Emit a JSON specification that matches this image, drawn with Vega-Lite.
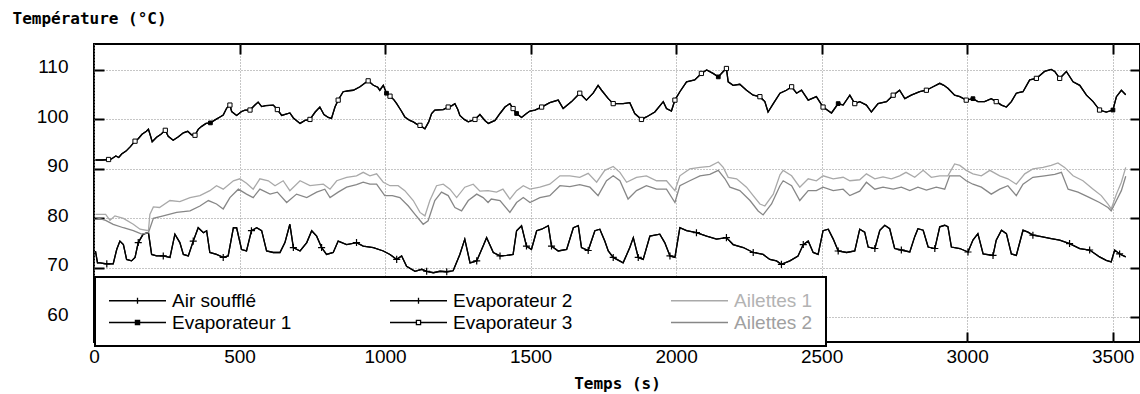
{
"$schema": "https://vega.github.io/schema/vega-lite/v6.json",
"width": 1046, "height": 298,
"autosize": {"type": "none"},
"padding": {"left": 94, "top": 44, "right": 0, "bottom": 52},
"background": "white",
"config": {
  "view": {"stroke": "black", "strokeWidth": 2},
  "axis": {"domain": false, "tickColor": "black", "tickWidth": 2, "tickSize": -10, "labelFont": "Liberation Sans", "labelFontSize": 19, "labelColor": "black", "gridColor": "#8c8c8c", "gridDash": [1, 2], "gridWidth": 1, "labelFlush": false}
},
"datasets": {
"temps": [
{"t":5,"Evaporateur 1":91.8,"Evaporateur 3":91.8},{"t":30,"Evaporateur 1":91.8,"Evaporateur 3":91.8},{"t":50,"Evaporateur 1":91.9,"Evaporateur 3":91.9},{"t":60,"Evaporateur 1":92.0,"Evaporateur 3":92.0},{"t":75,"Evaporateur 1":92.6,"Evaporateur 3":92.6},{"t":85,"Evaporateur 1":92.3,"Evaporateur 3":92.3},{"t":95,"Evaporateur 1":93.0,"Evaporateur 3":93.0},{"t":110,"Evaporateur 1":93.6,"Evaporateur 3":93.6},{"t":125,"Evaporateur 1":94.5,"Evaporateur 3":94.5},{"t":141,"Evaporateur 1":95.6,"Evaporateur 3":95.6},{"t":152,"Evaporateur 1":96.1,"Evaporateur 3":96.1},{"t":165,"Evaporateur 1":97.0,"Evaporateur 3":97.0},{"t":180,"Evaporateur 1":97.6,"Evaporateur 3":97.6},{"t":187,"Evaporateur 1":98.0,"Evaporateur 3":98.0},{"t":195,"Evaporateur 1":96.5,"Evaporateur 3":96.5},{"t":200,"Evaporateur 1":95.5,"Evaporateur 3":95.5},{"t":215,"Evaporateur 1":96.4,"Evaporateur 3":96.4},{"t":230,"Evaporateur 1":97.0,"Evaporateur 3":97.0},{"t":245,"Evaporateur 1":97.8,"Evaporateur 3":97.8},{"t":255,"Evaporateur 1":96.6,"Evaporateur 3":96.6},{"t":272,"Evaporateur 1":95.8,"Evaporateur 3":95.8},{"t":290,"Evaporateur 1":96.5,"Evaporateur 3":96.5},{"t":307,"Evaporateur 1":97.3,"Evaporateur 3":97.3},{"t":322,"Evaporateur 1":97.6,"Evaporateur 3":97.6},{"t":335,"Evaporateur 1":96.9,"Evaporateur 3":96.9},{"t":347,"Evaporateur 1":96.8,"Evaporateur 3":96.8},{"t":358,"Evaporateur 1":98.0,"Evaporateur 3":98.0},{"t":370,"Evaporateur 1":98.6,"Evaporateur 3":98.6},{"t":385,"Evaporateur 1":99.2,"Evaporateur 3":99.2},{"t":400,"Evaporateur 1":99.3,"Evaporateur 3":99.3},{"t":416,"Evaporateur 1":99.9,"Evaporateur 3":99.9},{"t":433,"Evaporateur 1":100.5,"Evaporateur 3":100.5},{"t":444,"Evaporateur 1":100.9,"Evaporateur 3":100.9},{"t":456,"Evaporateur 1":102.3,"Evaporateur 3":102.3},{"t":467,"Evaporateur 1":102.9,"Evaporateur 3":102.9},{"t":473,"Evaporateur 1":101.6,"Evaporateur 3":101.6},{"t":490,"Evaporateur 1":100.8,"Evaporateur 3":100.8},{"t":507,"Evaporateur 1":101.6,"Evaporateur 3":101.6},{"t":519,"Evaporateur 1":101.9,"Evaporateur 3":101.9},{"t":536,"Evaporateur 1":101.9,"Evaporateur 3":101.9},{"t":553,"Evaporateur 1":102.9,"Evaporateur 3":102.9},{"t":564,"Evaporateur 1":103.5,"Evaporateur 3":103.5},{"t":576,"Evaporateur 1":102.6,"Evaporateur 3":102.6},{"t":590,"Evaporateur 1":102.8,"Evaporateur 3":102.8},{"t":616,"Evaporateur 1":102.9,"Evaporateur 3":102.9},{"t":630,"Evaporateur 1":102.0,"Evaporateur 3":102.0},{"t":645,"Evaporateur 1":100.8,"Evaporateur 3":100.8},{"t":673,"Evaporateur 1":101.3,"Evaporateur 3":101.3},{"t":685,"Evaporateur 1":100.3,"Evaporateur 3":100.3},{"t":708,"Evaporateur 1":99.2,"Evaporateur 3":99.2},{"t":725,"Evaporateur 1":99.8,"Evaporateur 3":99.8},{"t":742,"Evaporateur 1":100.0,"Evaporateur 3":100.0},{"t":760,"Evaporateur 1":101.5,"Evaporateur 3":101.5},{"t":776,"Evaporateur 1":102.5,"Evaporateur 3":102.5},{"t":790,"Evaporateur 1":101.0,"Evaporateur 3":101.0},{"t":805,"Evaporateur 1":100.4,"Evaporateur 3":100.4},{"t":816,"Evaporateur 1":100.2,"Evaporateur 3":100.2},{"t":828,"Evaporateur 1":102.5,"Evaporateur 3":102.5},{"t":839,"Evaporateur 1":103.9,"Evaporateur 3":103.9},{"t":856,"Evaporateur 1":105.6,"Evaporateur 3":105.6},{"t":875,"Evaporateur 1":105.8,"Evaporateur 3":105.8},{"t":891,"Evaporateur 1":105.9,"Evaporateur 3":105.9},{"t":914,"Evaporateur 1":106.6,"Evaporateur 3":106.6},{"t":930,"Evaporateur 1":107.3,"Evaporateur 3":107.3},{"t":942,"Evaporateur 1":107.8,"Evaporateur 3":107.8},{"t":960,"Evaporateur 1":106.9,"Evaporateur 3":106.9},{"t":975,"Evaporateur 1":106.5,"Evaporateur 3":106.5},{"t":982,"Evaporateur 1":105.9,"Evaporateur 3":105.9},{"t":994,"Evaporateur 1":106.9,"Evaporateur 3":106.9},{"t":1005,"Evaporateur 1":105.3,"Evaporateur 3":105.3},{"t":1017,"Evaporateur 1":104.7,"Evaporateur 3":104.7},{"t":1030,"Evaporateur 1":104.0,"Evaporateur 3":104.0},{"t":1040,"Evaporateur 1":103.2,"Evaporateur 3":103.2},{"t":1055,"Evaporateur 1":101.8,"Evaporateur 3":101.8},{"t":1068,"Evaporateur 1":100.5,"Evaporateur 3":100.5},{"t":1085,"Evaporateur 1":99.8,"Evaporateur 3":99.8},{"t":1097,"Evaporateur 1":99.5,"Evaporateur 3":99.5},{"t":1110,"Evaporateur 1":99.0,"Evaporateur 3":99.0},{"t":1120,"Evaporateur 1":98.8,"Evaporateur 3":98.8},{"t":1137,"Evaporateur 1":98.1,"Evaporateur 3":98.1},{"t":1150,"Evaporateur 1":99.5,"Evaporateur 3":99.5},{"t":1160,"Evaporateur 1":101.2,"Evaporateur 3":101.2},{"t":1171,"Evaporateur 1":101.9,"Evaporateur 3":101.9},{"t":1200,"Evaporateur 1":102.0,"Evaporateur 3":102.0},{"t":1217,"Evaporateur 1":102.5,"Evaporateur 3":102.5},{"t":1230,"Evaporateur 1":102.8,"Evaporateur 3":102.8},{"t":1240,"Evaporateur 1":103.2,"Evaporateur 3":103.2},{"t":1250,"Evaporateur 1":102.0,"Evaporateur 3":102.0},{"t":1257,"Evaporateur 1":100.8,"Evaporateur 3":100.8},{"t":1272,"Evaporateur 1":100.0,"Evaporateur 3":100.0},{"t":1286,"Evaporateur 1":99.5,"Evaporateur 3":99.5},{"t":1309,"Evaporateur 1":100.0,"Evaporateur 3":100.0},{"t":1326,"Evaporateur 1":101.0,"Evaporateur 3":101.0},{"t":1343,"Evaporateur 1":99.8,"Evaporateur 3":99.8},{"t":1355,"Evaporateur 1":99.2,"Evaporateur 3":99.2},{"t":1378,"Evaporateur 1":99.8,"Evaporateur 3":99.8},{"t":1395,"Evaporateur 1":101.2,"Evaporateur 3":101.2},{"t":1412,"Evaporateur 1":102.5,"Evaporateur 3":102.5},{"t":1429,"Evaporateur 1":103.2,"Evaporateur 3":103.2},{"t":1440,"Evaporateur 1":102.2,"Evaporateur 3":102.2},{"t":1452,"Evaporateur 1":101.2,"Evaporateur 3":101.2},{"t":1469,"Evaporateur 1":100.4,"Evaporateur 3":100.4},{"t":1486,"Evaporateur 1":101.2,"Evaporateur 3":101.2},{"t":1498,"Evaporateur 1":101.7,"Evaporateur 3":101.7},{"t":1515,"Evaporateur 1":101.9,"Evaporateur 3":101.9},{"t":1538,"Evaporateur 1":102.5,"Evaporateur 3":102.5},{"t":1566,"Evaporateur 1":103.4,"Evaporateur 3":103.4},{"t":1595,"Evaporateur 1":103.9,"Evaporateur 3":103.9},{"t":1612,"Evaporateur 1":102.2,"Evaporateur 3":102.2},{"t":1641,"Evaporateur 1":103.6,"Evaporateur 3":103.6},{"t":1669,"Evaporateur 1":105.3,"Evaporateur 3":105.3},{"t":1692,"Evaporateur 1":103.9,"Evaporateur 3":103.9},{"t":1715,"Evaporateur 1":105.3,"Evaporateur 3":105.3},{"t":1732,"Evaporateur 1":106.9,"Evaporateur 3":106.9},{"t":1744,"Evaporateur 1":105.9,"Evaporateur 3":105.9},{"t":1767,"Evaporateur 1":104.2,"Evaporateur 3":104.2},{"t":1784,"Evaporateur 1":103.2,"Evaporateur 3":103.2},{"t":1818,"Evaporateur 1":103.2,"Evaporateur 3":103.2},{"t":1841,"Evaporateur 1":103.4,"Evaporateur 3":103.4},{"t":1858,"Evaporateur 1":101.2,"Evaporateur 3":101.2},{"t":1881,"Evaporateur 1":100.0,"Evaporateur 3":100.0},{"t":1898,"Evaporateur 1":100.5,"Evaporateur 3":100.5},{"t":1927,"Evaporateur 1":101.5,"Evaporateur 3":101.5},{"t":1956,"Evaporateur 1":103.6,"Evaporateur 3":103.6},{"t":1967,"Evaporateur 1":102.2,"Evaporateur 3":102.2},{"t":1984,"Evaporateur 1":101.7,"Evaporateur 3":101.7},{"t":1996,"Evaporateur 1":103.9,"Evaporateur 3":103.9},{"t":2013,"Evaporateur 1":105.6,"Evaporateur 3":105.6},{"t":2036,"Evaporateur 1":107.6,"Evaporateur 3":107.6},{"t":2064,"Evaporateur 1":108.0,"Evaporateur 3":108.0},{"t":2087,"Evaporateur 1":109.3,"Evaporateur 3":109.3},{"t":2105,"Evaporateur 1":110.0,"Evaporateur 3":110.0},{"t":2127,"Evaporateur 1":109.3,"Evaporateur 3":109.3},{"t":2145,"Evaporateur 1":108.6,"Evaporateur 3":108.6},{"t":2162,"Evaporateur 1":109.7,"Evaporateur 3":109.7},{"t":2173,"Evaporateur 1":110.3,"Evaporateur 3":110.3},{"t":2179,"Evaporateur 1":107.6,"Evaporateur 3":107.6},{"t":2196,"Evaporateur 1":106.9,"Evaporateur 3":106.9},{"t":2219,"Evaporateur 1":107.1,"Evaporateur 3":107.1},{"t":2242,"Evaporateur 1":105.9,"Evaporateur 3":105.9},{"t":2265,"Evaporateur 1":104.9,"Evaporateur 3":104.9},{"t":2288,"Evaporateur 1":104.6,"Evaporateur 3":104.6},{"t":2305,"Evaporateur 1":103.6,"Evaporateur 3":103.6},{"t":2316,"Evaporateur 1":101.5,"Evaporateur 3":101.5},{"t":2334,"Evaporateur 1":103.2,"Evaporateur 3":103.2},{"t":2357,"Evaporateur 1":105.3,"Evaporateur 3":105.3},{"t":2379,"Evaporateur 1":105.9,"Evaporateur 3":105.9},{"t":2397,"Evaporateur 1":106.6,"Evaporateur 3":106.6},{"t":2414,"Evaporateur 1":105.3,"Evaporateur 3":105.3},{"t":2431,"Evaporateur 1":105.9,"Evaporateur 3":105.9},{"t":2454,"Evaporateur 1":103.9,"Evaporateur 3":103.9},{"t":2482,"Evaporateur 1":104.6,"Evaporateur 3":104.6},{"t":2505,"Evaporateur 1":102.5,"Evaporateur 3":102.5},{"t":2534,"Evaporateur 1":101.3,"Evaporateur 3":101.3},{"t":2557,"Evaporateur 1":103.2,"Evaporateur 3":103.2},{"t":2574,"Evaporateur 1":102.9,"Evaporateur 3":102.9},{"t":2597,"Evaporateur 1":104.9,"Evaporateur 3":104.9},{"t":2614,"Evaporateur 1":103.2,"Evaporateur 3":103.2},{"t":2631,"Evaporateur 1":103.6,"Evaporateur 3":103.6},{"t":2654,"Evaporateur 1":102.9,"Evaporateur 3":102.9},{"t":2671,"Evaporateur 1":101.5,"Evaporateur 3":101.5},{"t":2694,"Evaporateur 1":103.2,"Evaporateur 3":103.2},{"t":2723,"Evaporateur 1":103.6,"Evaporateur 3":103.6},{"t":2746,"Evaporateur 1":104.9,"Evaporateur 3":104.9},{"t":2768,"Evaporateur 1":105.9,"Evaporateur 3":105.9},{"t":2786,"Evaporateur 1":104.2,"Evaporateur 3":104.2},{"t":2808,"Evaporateur 1":104.9,"Evaporateur 3":104.9},{"t":2837,"Evaporateur 1":105.6,"Evaporateur 3":105.6},{"t":2860,"Evaporateur 1":105.9,"Evaporateur 3":105.9},{"t":2883,"Evaporateur 1":106.6,"Evaporateur 3":106.6},{"t":2906,"Evaporateur 1":107.3,"Evaporateur 3":107.3},{"t":2920,"Evaporateur 1":106.9,"Evaporateur 3":106.9},{"t":2934,"Evaporateur 1":106.3,"Evaporateur 3":106.3},{"t":2957,"Evaporateur 1":104.9,"Evaporateur 3":104.9},{"t":2975,"Evaporateur 1":104.6,"Evaporateur 3":104.6},{"t":2997,"Evaporateur 1":103.9,"Evaporateur 3":103.9},{"t":3020,"Evaporateur 1":104.2,"Evaporateur 3":104.2},{"t":3037,"Evaporateur 1":103.6,"Evaporateur 3":103.6},{"t":3060,"Evaporateur 1":103.6,"Evaporateur 3":103.6},{"t":3083,"Evaporateur 1":104.2,"Evaporateur 3":104.2},{"t":3100,"Evaporateur 1":103.6,"Evaporateur 3":103.6},{"t":3118,"Evaporateur 1":102.9,"Evaporateur 3":102.9},{"t":3135,"Evaporateur 1":102.5,"Evaporateur 3":102.5},{"t":3152,"Evaporateur 1":103.6,"Evaporateur 3":103.6},{"t":3169,"Evaporateur 1":105.3,"Evaporateur 3":105.3},{"t":3192,"Evaporateur 1":105.6,"Evaporateur 3":105.6},{"t":3215,"Evaporateur 1":108.0,"Evaporateur 3":108.0},{"t":3238,"Evaporateur 1":108.3,"Evaporateur 3":108.3},{"t":3266,"Evaporateur 1":109.7,"Evaporateur 3":109.7},{"t":3289,"Evaporateur 1":110.1,"Evaporateur 3":110.1},{"t":3301,"Evaporateur 1":109.7,"Evaporateur 3":109.7},{"t":3318,"Evaporateur 1":108.3,"Evaporateur 3":108.3},{"t":3341,"Evaporateur 1":109.7,"Evaporateur 3":109.7},{"t":3364,"Evaporateur 1":107.6,"Evaporateur 3":107.6},{"t":3387,"Evaporateur 1":106.9,"Evaporateur 3":106.9},{"t":3410,"Evaporateur 1":104.9,"Evaporateur 3":104.9},{"t":3433,"Evaporateur 1":103.6,"Evaporateur 3":103.6},{"t":3455,"Evaporateur 1":101.9,"Evaporateur 3":101.9},{"t":3478,"Evaporateur 1":101.5,"Evaporateur 3":101.5},{"t":3501,"Evaporateur 1":101.9,"Evaporateur 3":101.9},{"t":3513,"Evaporateur 1":104.6,"Evaporateur 3":104.6},{"t":3530,"Evaporateur 1":105.9,"Evaporateur 3":105.9},{"t":3545,"Evaporateur 1":105.0,"Evaporateur 3":105.0},
{"t":5,"Air soufflé":73.4,"Evaporateur 2":73.4},{"t":12,"Air soufflé":71.0,"Evaporateur 2":71.0},{"t":21,"Air soufflé":71.0,"Evaporateur 2":71.0},{"t":44,"Air soufflé":70.8,"Evaporateur 2":70.8},{"t":66,"Air soufflé":70.8,"Evaporateur 2":70.8},{"t":78,"Air soufflé":73.7,"Evaporateur 2":73.7},{"t":89,"Air soufflé":75.4,"Evaporateur 2":75.4},{"t":101,"Air soufflé":74.7,"Evaporateur 2":74.7},{"t":112,"Air soufflé":71.7,"Evaporateur 2":71.7},{"t":129,"Air soufflé":71.4,"Evaporateur 2":71.4},{"t":141,"Air soufflé":72.1,"Evaporateur 2":72.1},{"t":152,"Air soufflé":75.1,"Evaporateur 2":75.1},{"t":169,"Air soufflé":76.8,"Evaporateur 2":76.8},{"t":187,"Air soufflé":77.1,"Evaporateur 2":77.1},{"t":198,"Air soufflé":72.7,"Evaporateur 2":72.7},{"t":215,"Air soufflé":72.4,"Evaporateur 2":72.4},{"t":238,"Air soufflé":72.4,"Evaporateur 2":72.4},{"t":261,"Air soufflé":72.1,"Evaporateur 2":72.1},{"t":278,"Air soufflé":76.8,"Evaporateur 2":76.8},{"t":295,"Air soufflé":75.1,"Evaporateur 2":75.1},{"t":307,"Air soufflé":72.7,"Evaporateur 2":72.7},{"t":324,"Air soufflé":72.4,"Evaporateur 2":72.4},{"t":341,"Air soufflé":75.4,"Evaporateur 2":75.4},{"t":358,"Air soufflé":78.1,"Evaporateur 2":78.1},{"t":376,"Air soufflé":77.1,"Evaporateur 2":77.1},{"t":387,"Air soufflé":77.5,"Evaporateur 2":77.5},{"t":398,"Air soufflé":73.1,"Evaporateur 2":73.1},{"t":421,"Air soufflé":72.7,"Evaporateur 2":72.7},{"t":444,"Air soufflé":72.1,"Evaporateur 2":72.1},{"t":461,"Air soufflé":72.4,"Evaporateur 2":72.4},{"t":479,"Air soufflé":78.1,"Evaporateur 2":78.1},{"t":490,"Air soufflé":78.1,"Evaporateur 2":78.1},{"t":507,"Air soufflé":73.7,"Evaporateur 2":73.7},{"t":524,"Air soufflé":73.4,"Evaporateur 2":73.4},{"t":541,"Air soufflé":77.5,"Evaporateur 2":77.5},{"t":559,"Air soufflé":78.1,"Evaporateur 2":78.1},{"t":576,"Air soufflé":77.5,"Evaporateur 2":77.5},{"t":593,"Air soufflé":73.4,"Evaporateur 2":73.4},{"t":616,"Air soufflé":73.1,"Evaporateur 2":73.1},{"t":639,"Air soufflé":73.1,"Evaporateur 2":73.1},{"t":656,"Air soufflé":75.1,"Evaporateur 2":75.1},{"t":673,"Air soufflé":78.8,"Evaporateur 2":78.8},{"t":685,"Air soufflé":74.1,"Evaporateur 2":74.1},{"t":708,"Air soufflé":73.4,"Evaporateur 2":73.4},{"t":731,"Air soufflé":75.1,"Evaporateur 2":75.1},{"t":748,"Air soufflé":77.5,"Evaporateur 2":77.5},{"t":765,"Air soufflé":76.4,"Evaporateur 2":76.4},{"t":782,"Air soufflé":74.1,"Evaporateur 2":74.1},{"t":799,"Air soufflé":72.7,"Evaporateur 2":72.7},{"t":822,"Air soufflé":73.1,"Evaporateur 2":73.1},{"t":839,"Air soufflé":75.4,"Evaporateur 2":75.4},{"t":868,"Air soufflé":74.7,"Evaporateur 2":74.7},{"t":902,"Air soufflé":75.1,"Evaporateur 2":75.1},{"t":925,"Air soufflé":74.4,"Evaporateur 2":74.4},{"t":960,"Air soufflé":74.1,"Evaporateur 2":74.1},{"t":994,"Air soufflé":73.4,"Evaporateur 2":73.4},{"t":1017,"Air soufflé":72.7,"Evaporateur 2":72.7},{"t":1040,"Air soufflé":71.7,"Evaporateur 2":71.7},{"t":1057,"Air soufflé":72.4,"Evaporateur 2":72.4},{"t":1074,"Air soufflé":70.3,"Evaporateur 2":70.3},{"t":1103,"Air soufflé":69.3,"Evaporateur 2":69.3},{"t":1126,"Air soufflé":69.7,"Evaporateur 2":69.7},{"t":1143,"Air soufflé":69.3,"Evaporateur 2":69.3},{"t":1166,"Air soufflé":69.0,"Evaporateur 2":69.0},{"t":1189,"Air soufflé":69.3,"Evaporateur 2":69.3},{"t":1212,"Air soufflé":69.2,"Evaporateur 2":69.2},{"t":1234,"Air soufflé":69.4,"Evaporateur 2":69.4},{"t":1257,"Air soufflé":72.7,"Evaporateur 2":72.7},{"t":1274,"Air soufflé":75.8,"Evaporateur 2":75.8},{"t":1292,"Air soufflé":71.0,"Evaporateur 2":71.0},{"t":1315,"Air soufflé":71.4,"Evaporateur 2":71.4},{"t":1337,"Air soufflé":74.4,"Evaporateur 2":74.4},{"t":1349,"Air soufflé":76.1,"Evaporateur 2":76.1},{"t":1372,"Air soufflé":73.1,"Evaporateur 2":73.1},{"t":1395,"Air soufflé":72.4,"Evaporateur 2":72.4},{"t":1418,"Air soufflé":72.5,"Evaporateur 2":72.5},{"t":1440,"Air soufflé":72.7,"Evaporateur 2":72.7},{"t":1452,"Air soufflé":77.5,"Evaporateur 2":77.5},{"t":1469,"Air soufflé":78.5,"Evaporateur 2":78.5},{"t":1486,"Air soufflé":74.4,"Evaporateur 2":74.4},{"t":1503,"Air soufflé":73.7,"Evaporateur 2":73.7},{"t":1521,"Air soufflé":77.5,"Evaporateur 2":77.5},{"t":1538,"Air soufflé":77.8,"Evaporateur 2":77.8},{"t":1561,"Air soufflé":78.5,"Evaporateur 2":78.5},{"t":1572,"Air soufflé":74.4,"Evaporateur 2":74.4},{"t":1595,"Air soufflé":73.4,"Evaporateur 2":73.4},{"t":1624,"Air soufflé":73.7,"Evaporateur 2":73.7},{"t":1647,"Air soufflé":78.1,"Evaporateur 2":78.1},{"t":1664,"Air soufflé":78.5,"Evaporateur 2":78.5},{"t":1675,"Air soufflé":74.1,"Evaporateur 2":74.1},{"t":1698,"Air soufflé":73.5,"Evaporateur 2":73.5},{"t":1721,"Air soufflé":77.5,"Evaporateur 2":77.5},{"t":1738,"Air soufflé":77.8,"Evaporateur 2":77.8},{"t":1755,"Air soufflé":75.4,"Evaporateur 2":75.4},{"t":1767,"Air soufflé":73.4,"Evaporateur 2":73.4},{"t":1784,"Air soufflé":72.1,"Evaporateur 2":72.1},{"t":1818,"Air soufflé":71.0,"Evaporateur 2":71.0},{"t":1841,"Air soufflé":74.1,"Evaporateur 2":74.1},{"t":1853,"Air soufflé":76.1,"Evaporateur 2":76.1},{"t":1870,"Air soufflé":72.1,"Evaporateur 2":72.1},{"t":1887,"Air soufflé":71.7,"Evaporateur 2":71.7},{"t":1910,"Air soufflé":76.4,"Evaporateur 2":76.4},{"t":1944,"Air soufflé":76.8,"Evaporateur 2":76.8},{"t":1961,"Air soufflé":75.1,"Evaporateur 2":75.1},{"t":1979,"Air soufflé":72.4,"Evaporateur 2":72.4},{"t":1996,"Air soufflé":72.1,"Evaporateur 2":72.1},{"t":2013,"Air soufflé":78.1,"Evaporateur 2":78.1},{"t":2036,"Air soufflé":77.5,"Evaporateur 2":77.5},{"t":2070,"Air soufflé":77.1,"Evaporateur 2":77.1},{"t":2105,"Air soufflé":76.4,"Evaporateur 2":76.4},{"t":2139,"Air soufflé":75.8,"Evaporateur 2":75.8},{"t":2173,"Air soufflé":76.1,"Evaporateur 2":76.1},{"t":2196,"Air soufflé":74.7,"Evaporateur 2":74.7},{"t":2231,"Air soufflé":74.1,"Evaporateur 2":74.1},{"t":2265,"Air soufflé":73.1,"Evaporateur 2":73.1},{"t":2299,"Air soufflé":72.7,"Evaporateur 2":72.7},{"t":2322,"Air soufflé":71.7,"Evaporateur 2":71.7},{"t":2345,"Air soufflé":71.4,"Evaporateur 2":71.4},{"t":2362,"Air soufflé":70.7,"Evaporateur 2":70.7},{"t":2391,"Air soufflé":71.4,"Evaporateur 2":71.4},{"t":2419,"Air soufflé":72.4,"Evaporateur 2":72.4},{"t":2437,"Air soufflé":74.7,"Evaporateur 2":74.7},{"t":2454,"Air soufflé":75.4,"Evaporateur 2":75.4},{"t":2471,"Air soufflé":73.1,"Evaporateur 2":73.1},{"t":2488,"Air soufflé":72.7,"Evaporateur 2":72.7},{"t":2505,"Air soufflé":77.5,"Evaporateur 2":77.5},{"t":2523,"Air soufflé":77.8,"Evaporateur 2":77.8},{"t":2540,"Air soufflé":75.8,"Evaporateur 2":75.8},{"t":2557,"Air soufflé":73.4,"Evaporateur 2":73.4},{"t":2586,"Air soufflé":73.1,"Evaporateur 2":73.1},{"t":2614,"Air soufflé":73.4,"Evaporateur 2":73.4},{"t":2631,"Air soufflé":77.8,"Evaporateur 2":77.8},{"t":2648,"Air soufflé":77.2,"Evaporateur 2":77.2},{"t":2660,"Air soufflé":74.2,"Evaporateur 2":74.2},{"t":2683,"Air soufflé":73.9,"Evaporateur 2":73.9},{"t":2700,"Air soufflé":77.6,"Evaporateur 2":77.6},{"t":2717,"Air soufflé":78.6,"Evaporateur 2":78.6},{"t":2734,"Air soufflé":77.9,"Evaporateur 2":77.9},{"t":2751,"Air soufflé":73.9,"Evaporateur 2":73.9},{"t":2774,"Air soufflé":73.6,"Evaporateur 2":73.6},{"t":2803,"Air soufflé":73.2,"Evaporateur 2":73.2},{"t":2820,"Air soufflé":76.3,"Evaporateur 2":76.3},{"t":2831,"Air soufflé":77.9,"Evaporateur 2":77.9},{"t":2849,"Air soufflé":77.6,"Evaporateur 2":77.6},{"t":2866,"Air soufflé":74.2,"Evaporateur 2":74.2},{"t":2889,"Air soufflé":73.9,"Evaporateur 2":73.9},{"t":2906,"Air soufflé":78.3,"Evaporateur 2":78.3},{"t":2923,"Air soufflé":78.6,"Evaporateur 2":78.6},{"t":2934,"Air soufflé":78.3,"Evaporateur 2":78.3},{"t":2946,"Air soufflé":74.2,"Evaporateur 2":74.2},{"t":2975,"Air soufflé":73.9,"Evaporateur 2":73.9},{"t":3003,"Air soufflé":73.2,"Evaporateur 2":73.2},{"t":3020,"Air soufflé":75.6,"Evaporateur 2":75.6},{"t":3037,"Air soufflé":76.9,"Evaporateur 2":76.9},{"t":3055,"Air soufflé":72.8,"Evaporateur 2":72.8},{"t":3089,"Air soufflé":72.5,"Evaporateur 2":72.5},{"t":3100,"Air soufflé":75.6,"Evaporateur 2":75.6},{"t":3118,"Air soufflé":77.6,"Evaporateur 2":77.6},{"t":3135,"Air soufflé":76.9,"Evaporateur 2":76.9},{"t":3152,"Air soufflé":72.8,"Evaporateur 2":72.8},{"t":3169,"Air soufflé":72.5,"Evaporateur 2":72.5},{"t":3192,"Air soufflé":77.6,"Evaporateur 2":77.6},{"t":3209,"Air soufflé":77.2,"Evaporateur 2":77.2},{"t":3226,"Air soufflé":76.6,"Evaporateur 2":76.6},{"t":3255,"Air soufflé":76.3,"Evaporateur 2":76.3},{"t":3289,"Air soufflé":75.9,"Evaporateur 2":75.9},{"t":3318,"Air soufflé":75.6,"Evaporateur 2":75.6},{"t":3352,"Air soufflé":74.9,"Evaporateur 2":74.9},{"t":3387,"Air soufflé":73.9,"Evaporateur 2":73.9},{"t":3421,"Air soufflé":73.6,"Evaporateur 2":73.6},{"t":3455,"Air soufflé":72.2,"Evaporateur 2":72.2},{"t":3478,"Air soufflé":71.5,"Evaporateur 2":71.5},{"t":3495,"Air soufflé":71.2,"Evaporateur 2":71.2},{"t":3507,"Air soufflé":73.6,"Evaporateur 2":73.6},{"t":3524,"Air soufflé":72.8,"Evaporateur 2":72.8},{"t":3545,"Air soufflé":72.2,"Evaporateur 2":72.2},
{"t":5,"Ailettes 1":80.8},{"t":40,"Ailettes 1":80.8},{"t":55,"Ailettes 1":79.6},{"t":72,"Ailettes 1":80.5},{"t":101,"Ailettes 1":80.0},{"t":135,"Ailettes 1":78.8},{"t":158,"Ailettes 1":77.8},{"t":187,"Ailettes 1":77.5},{"t":192,"Ailettes 1":80.8},{"t":204,"Ailettes 1":82.3},{"t":225,"Ailettes 1":82.2},{"t":261,"Ailettes 1":83.6},{"t":295,"Ailettes 1":83.4},{"t":330,"Ailettes 1":84.2},{"t":364,"Ailettes 1":84.6},{"t":398,"Ailettes 1":85.6},{"t":421,"Ailettes 1":86.6},{"t":444,"Ailettes 1":85.9},{"t":479,"Ailettes 1":87.6},{"t":501,"Ailettes 1":88.0},{"t":524,"Ailettes 1":87.1},{"t":547,"Ailettes 1":85.9},{"t":570,"Ailettes 1":88.0},{"t":599,"Ailettes 1":87.6},{"t":622,"Ailettes 1":86.6},{"t":650,"Ailettes 1":87.6},{"t":673,"Ailettes 1":85.6},{"t":708,"Ailettes 1":87.6},{"t":742,"Ailettes 1":86.6},{"t":788,"Ailettes 1":86.9},{"t":811,"Ailettes 1":85.9},{"t":834,"Ailettes 1":87.6},{"t":868,"Ailettes 1":88.3},{"t":902,"Ailettes 1":88.6},{"t":925,"Ailettes 1":89.3},{"t":948,"Ailettes 1":88.6},{"t":971,"Ailettes 1":89.0},{"t":994,"Ailettes 1":87.3},{"t":1017,"Ailettes 1":86.6},{"t":1045,"Ailettes 1":86.6},{"t":1068,"Ailettes 1":85.6},{"t":1097,"Ailettes 1":83.6},{"t":1120,"Ailettes 1":81.2},{"t":1137,"Ailettes 1":80.5},{"t":1154,"Ailettes 1":83.6},{"t":1177,"Ailettes 1":86.6},{"t":1200,"Ailettes 1":86.9},{"t":1223,"Ailettes 1":85.9},{"t":1246,"Ailettes 1":84.2},{"t":1274,"Ailettes 1":86.3},{"t":1303,"Ailettes 1":86.9},{"t":1326,"Ailettes 1":85.5},{"t":1354,"Ailettes 1":85.6},{"t":1383,"Ailettes 1":85.3},{"t":1405,"Ailettes 1":85.9},{"t":1429,"Ailettes 1":83.9},{"t":1452,"Ailettes 1":85.6},{"t":1475,"Ailettes 1":86.6},{"t":1498,"Ailettes 1":85.9},{"t":1532,"Ailettes 1":86.3},{"t":1566,"Ailettes 1":86.9},{"t":1601,"Ailettes 1":88.6},{"t":1635,"Ailettes 1":88.6},{"t":1669,"Ailettes 1":88.3},{"t":1698,"Ailettes 1":89.1},{"t":1727,"Ailettes 1":87.3},{"t":1755,"Ailettes 1":89.7},{"t":1784,"Ailettes 1":90.5},{"t":1807,"Ailettes 1":89.3},{"t":1830,"Ailettes 1":87.3},{"t":1864,"Ailettes 1":88.3},{"t":1898,"Ailettes 1":88.6},{"t":1933,"Ailettes 1":87.6},{"t":1967,"Ailettes 1":87.6},{"t":1996,"Ailettes 1":85.6},{"t":2013,"Ailettes 1":88.6},{"t":2047,"Ailettes 1":90.0},{"t":2082,"Ailettes 1":90.3},{"t":2116,"Ailettes 1":90.5},{"t":2145,"Ailettes 1":91.4},{"t":2162,"Ailettes 1":90.3},{"t":2179,"Ailettes 1":88.3},{"t":2208,"Ailettes 1":88.0},{"t":2242,"Ailettes 1":86.3},{"t":2265,"Ailettes 1":84.6},{"t":2288,"Ailettes 1":82.9},{"t":2305,"Ailettes 1":82.5},{"t":2334,"Ailettes 1":84.9},{"t":2357,"Ailettes 1":88.8},{"t":2368,"Ailettes 1":89.7},{"t":2397,"Ailettes 1":88.6},{"t":2425,"Ailettes 1":86.3},{"t":2454,"Ailettes 1":88.0},{"t":2482,"Ailettes 1":87.6},{"t":2505,"Ailettes 1":88.6},{"t":2540,"Ailettes 1":88.0},{"t":2574,"Ailettes 1":88.3},{"t":2597,"Ailettes 1":87.6},{"t":2631,"Ailettes 1":87.8},{"t":2654,"Ailettes 1":89.0},{"t":2683,"Ailettes 1":88.0},{"t":2711,"Ailettes 1":88.4},{"t":2740,"Ailettes 1":88.0},{"t":2768,"Ailettes 1":88.6},{"t":2790,"Ailettes 1":89.3},{"t":2820,"Ailettes 1":88.3},{"t":2849,"Ailettes 1":89.7},{"t":2877,"Ailettes 1":88.3},{"t":2906,"Ailettes 1":88.6},{"t":2934,"Ailettes 1":88.6},{"t":2957,"Ailettes 1":91.0},{"t":2975,"Ailettes 1":90.7},{"t":2997,"Ailettes 1":89.7},{"t":3020,"Ailettes 1":89.0},{"t":3049,"Ailettes 1":88.6},{"t":3078,"Ailettes 1":89.7},{"t":3112,"Ailettes 1":88.6},{"t":3140,"Ailettes 1":88.0},{"t":3169,"Ailettes 1":86.9},{"t":3198,"Ailettes 1":89.0},{"t":3226,"Ailettes 1":90.0},{"t":3261,"Ailettes 1":90.3},{"t":3289,"Ailettes 1":90.7},{"t":3312,"Ailettes 1":91.2},{"t":3335,"Ailettes 1":90.3},{"t":3364,"Ailettes 1":88.6},{"t":3398,"Ailettes 1":87.6},{"t":3433,"Ailettes 1":85.9},{"t":3461,"Ailettes 1":84.6},{"t":3484,"Ailettes 1":82.9},{"t":3495,"Ailettes 1":81.9},{"t":3513,"Ailettes 1":84.9},{"t":3530,"Ailettes 1":87.3},{"t":3545,"Ailettes 1":90.3},
{"t":5,"Ailettes 2":80.2},{"t":40,"Ailettes 2":79.6},{"t":66,"Ailettes 2":78.8},{"t":101,"Ailettes 2":78.1},{"t":135,"Ailettes 2":77.5},{"t":164,"Ailettes 2":76.8},{"t":187,"Ailettes 2":77.1},{"t":204,"Ailettes 2":80.0},{"t":238,"Ailettes 2":80.5},{"t":284,"Ailettes 2":81.2},{"t":330,"Ailettes 2":81.5},{"t":364,"Ailettes 2":82.5},{"t":393,"Ailettes 2":83.6},{"t":421,"Ailettes 2":82.9},{"t":444,"Ailettes 2":81.9},{"t":467,"Ailettes 2":84.2},{"t":496,"Ailettes 2":85.9},{"t":524,"Ailettes 2":84.9},{"t":547,"Ailettes 2":84.2},{"t":570,"Ailettes 2":85.9},{"t":605,"Ailettes 2":84.9},{"t":630,"Ailettes 2":85.3},{"t":662,"Ailettes 2":83.2},{"t":696,"Ailettes 2":84.9},{"t":731,"Ailettes 2":84.2},{"t":765,"Ailettes 2":85.3},{"t":793,"Ailettes 2":85.9},{"t":811,"Ailettes 2":84.2},{"t":839,"Ailettes 2":85.3},{"t":868,"Ailettes 2":86.3},{"t":902,"Ailettes 2":86.8},{"t":925,"Ailettes 2":87.3},{"t":948,"Ailettes 2":86.9},{"t":971,"Ailettes 2":86.9},{"t":999,"Ailettes 2":84.6},{"t":1025,"Ailettes 2":84.6},{"t":1051,"Ailettes 2":84.2},{"t":1080,"Ailettes 2":82.5},{"t":1103,"Ailettes 2":80.8},{"t":1131,"Ailettes 2":78.8},{"t":1148,"Ailettes 2":79.5},{"t":1171,"Ailettes 2":83.6},{"t":1194,"Ailettes 2":85.3},{"t":1217,"Ailettes 2":84.6},{"t":1240,"Ailettes 2":82.2},{"t":1263,"Ailettes 2":81.5},{"t":1286,"Ailettes 2":83.6},{"t":1315,"Ailettes 2":84.9},{"t":1337,"Ailettes 2":84.2},{"t":1354,"Ailettes 2":83.2},{"t":1365,"Ailettes 2":83.9},{"t":1395,"Ailettes 2":83.6},{"t":1429,"Ailettes 2":81.2},{"t":1452,"Ailettes 2":83.2},{"t":1475,"Ailettes 2":84.2},{"t":1498,"Ailettes 2":83.2},{"t":1532,"Ailettes 2":84.2},{"t":1566,"Ailettes 2":84.6},{"t":1601,"Ailettes 2":86.6},{"t":1635,"Ailettes 2":86.4},{"t":1669,"Ailettes 2":86.8},{"t":1704,"Ailettes 2":86.3},{"t":1732,"Ailettes 2":84.6},{"t":1761,"Ailettes 2":87.6},{"t":1784,"Ailettes 2":88.6},{"t":1807,"Ailettes 2":87.6},{"t":1835,"Ailettes 2":83.9},{"t":1864,"Ailettes 2":85.6},{"t":1898,"Ailettes 2":86.6},{"t":1933,"Ailettes 2":85.9},{"t":1967,"Ailettes 2":85.9},{"t":1996,"Ailettes 2":83.2},{"t":2013,"Ailettes 2":86.6},{"t":2047,"Ailettes 2":87.6},{"t":2082,"Ailettes 2":88.6},{"t":2116,"Ailettes 2":88.9},{"t":2145,"Ailettes 2":89.7},{"t":2168,"Ailettes 2":88.0},{"t":2185,"Ailettes 2":86.3},{"t":2219,"Ailettes 2":85.6},{"t":2254,"Ailettes 2":83.6},{"t":2282,"Ailettes 2":81.5},{"t":2299,"Ailettes 2":80.7},{"t":2328,"Ailettes 2":82.9},{"t":2357,"Ailettes 2":86.6},{"t":2368,"Ailettes 2":87.6},{"t":2397,"Ailettes 2":86.6},{"t":2425,"Ailettes 2":83.6},{"t":2454,"Ailettes 2":85.6},{"t":2482,"Ailettes 2":85.6},{"t":2505,"Ailettes 2":86.3},{"t":2540,"Ailettes 2":85.6},{"t":2574,"Ailettes 2":85.9},{"t":2597,"Ailettes 2":84.6},{"t":2631,"Ailettes 2":85.5},{"t":2654,"Ailettes 2":87.3},{"t":2683,"Ailettes 2":85.9},{"t":2711,"Ailettes 2":86.3},{"t":2746,"Ailettes 2":85.9},{"t":2774,"Ailettes 2":86.3},{"t":2803,"Ailettes 2":85.6},{"t":2831,"Ailettes 2":86.3},{"t":2860,"Ailettes 2":85.7},{"t":2894,"Ailettes 2":86.3},{"t":2923,"Ailettes 2":85.9},{"t":2940,"Ailettes 2":88.6},{"t":2975,"Ailettes 2":88.6},{"t":2997,"Ailettes 2":87.6},{"t":3020,"Ailettes 2":86.9},{"t":3049,"Ailettes 2":86.3},{"t":3083,"Ailettes 2":84.9},{"t":3112,"Ailettes 2":85.9},{"t":3140,"Ailettes 2":86.6},{"t":3169,"Ailettes 2":84.6},{"t":3192,"Ailettes 2":86.9},{"t":3226,"Ailettes 2":88.3},{"t":3266,"Ailettes 2":88.6},{"t":3301,"Ailettes 2":88.9},{"t":3324,"Ailettes 2":89.3},{"t":3347,"Ailettes 2":85.9},{"t":3381,"Ailettes 2":85.3},{"t":3421,"Ailettes 2":84.2},{"t":3455,"Ailettes 2":83.2},{"t":3484,"Ailettes 2":82.2},{"t":3495,"Ailettes 2":81.5},{"t":3513,"Ailettes 2":83.6},{"t":3530,"Ailettes 2":85.6},{"t":3545,"Ailettes 2":88.5}
],
"markers": [
{"s":"Evaporateur 3","t":50,"v":91.9},{"s":"Evaporateur 3","t":141,"v":95.6},{"s":"Evaporateur 3","t":245,"v":97.8},{"s":"Evaporateur 3","t":347,"v":96.8},{"s":"Evaporateur 3","t":467,"v":102.9},{"s":"Evaporateur 3","t":536,"v":101.9},{"s":"Evaporateur 3","t":630,"v":102.0},{"s":"Evaporateur 3","t":742,"v":100.0},{"s":"Evaporateur 3","t":839,"v":103.9},{"s":"Evaporateur 3","t":942,"v":107.8},{"s":"Evaporateur 3","t":1017,"v":104.7},{"s":"Evaporateur 3","t":1120,"v":98.8},{"s":"Evaporateur 3","t":1217,"v":102.5},{"s":"Evaporateur 3","t":1309,"v":100.0},{"s":"Evaporateur 3","t":1440,"v":102.2},{"s":"Evaporateur 3","t":1538,"v":102.5},{"s":"Evaporateur 3","t":1669,"v":105.3},{"s":"Evaporateur 3","t":1784,"v":103.2},{"s":"Evaporateur 3","t":1881,"v":100.0},{"s":"Evaporateur 3","t":1996,"v":103.9},{"s":"Evaporateur 3","t":2087,"v":109.3},{"s":"Evaporateur 3","t":2173,"v":110.3},{"s":"Evaporateur 3","t":2288,"v":104.6},{"s":"Evaporateur 3","t":2397,"v":106.6},{"s":"Evaporateur 3","t":2505,"v":102.5},{"s":"Evaporateur 3","t":2614,"v":103.2},{"s":"Evaporateur 3","t":2746,"v":104.9},{"s":"Evaporateur 3","t":2860,"v":105.9},{"s":"Evaporateur 3","t":2997,"v":103.9},{"s":"Evaporateur 3","t":3100,"v":103.6},{"s":"Evaporateur 3","t":3238,"v":108.3},{"s":"Evaporateur 3","t":3318,"v":108.3},{"s":"Evaporateur 3","t":3455,"v":101.9},
{"s":"Evaporateur 1","t":400,"v":99.3},{"s":"Evaporateur 1","t":1005,"v":105.3},{"s":"Evaporateur 1","t":1452,"v":101.2},{"s":"Evaporateur 1","t":2145,"v":108.6},{"s":"Evaporateur 1","t":2557,"v":103.2},{"s":"Evaporateur 1","t":3020,"v":104.2},{"s":"Evaporateur 1","t":3501,"v":101.9},
{"s":"Air soufflé","t":44,"v":70.8},{"s":"Air soufflé","t":152,"v":75.1},{"s":"Air soufflé","t":238,"v":72.4},{"s":"Air soufflé","t":341,"v":75.4},{"s":"Air soufflé","t":444,"v":72.1},{"s":"Air soufflé","t":541,"v":77.5},{"s":"Air soufflé","t":685,"v":74.1},{"s":"Air soufflé","t":782,"v":74.1},{"s":"Air soufflé","t":902,"v":75.1},{"s":"Air soufflé","t":1040,"v":71.7},{"s":"Air soufflé","t":1143,"v":69.3},{"s":"Air soufflé","t":1212,"v":69.2},{"s":"Air soufflé","t":1315,"v":71.4},{"s":"Air soufflé","t":1395,"v":72.4},{"s":"Air soufflé","t":1486,"v":74.4},{"s":"Air soufflé","t":1572,"v":74.4},{"s":"Air soufflé","t":1698,"v":73.5},{"s":"Evaporateur 2","t":1784,"v":72.1},{"s":"Evaporateur 2","t":1870,"v":72.1},{"s":"Evaporateur 2","t":1979,"v":72.4},{"s":"Evaporateur 2","t":2070,"v":77.1},{"s":"Evaporateur 2","t":2173,"v":76.1},{"s":"Evaporateur 2","t":2265,"v":73.1},{"s":"Evaporateur 2","t":2362,"v":70.7},{"s":"Evaporateur 2","t":2437,"v":74.7},{"s":"Evaporateur 2","t":2557,"v":73.4},{"s":"Evaporateur 2","t":2683,"v":73.9},{"s":"Evaporateur 2","t":2774,"v":73.6},{"s":"Evaporateur 2","t":2889,"v":73.9},{"s":"Evaporateur 2","t":3003,"v":73.2},{"s":"Evaporateur 2","t":3089,"v":72.5},{"s":"Evaporateur 2","t":3226,"v":76.6},{"s":"Evaporateur 2","t":3352,"v":74.9},{"s":"Evaporateur 2","t":3421,"v":73.6},{"s":"Evaporateur 2","t":3524,"v":72.8}
]
},
"layer": [
{
  "data": {"name": "temps"},
  "transform": [
    {"fold": ["Air soufflé", "Evaporateur 1", "Evaporateur 2", "Evaporateur 3", "Ailettes 1", "Ailettes 2"], "as": ["s", "v"]},
    {"filter": "isValid(datum.v)"}
  ],
  "mark": {"type": "line", "strokeWidth": 1.3},
  "encoding": {
    "x": {"field": "t", "type": "quantitative", "scale": {"domain": [0, 3594], "nice": false, "zero": false},
      "axis": {"orient": "bottom", "values": [0, 500, 1000, 1500, 2000, 2500, 3000, 3500], "format": "d", "grid": true, "labelPadding": 15,
        "title": "Temps (s)", "titleFont": "DejaVu Sans Mono", "titleFontWeight": "bold", "titleFontSize": 16, "titleColor": "black", "titleBaseline": "alphabetic", "titleY": 46}},
    "y": {"field": "v", "type": "quantitative", "scale": {"domain": [55, 115.25], "nice": false, "zero": false},
      "axis": {"orient": "left", "values": [60, 70, 80, 90, 100, 110], "format": "d", "grid": true, "labelPadding": 36, "labelOffset": -3,
        "title": "Température (°C)", "titleFont": "DejaVu Sans Mono", "titleFontWeight": "bold", "titleFontSize": 16, "titleColor": "black",
        "titleAngle": 0, "titleAlign": "left", "titleBaseline": "alphabetic", "titleX": -82, "titleY": -21}},
    "color": {"field": "s", "type": "nominal",
      "scale": {"domain": ["Air soufflé", "Evaporateur 2", "Ailettes 1", "Evaporateur 1", "Evaporateur 3", "Ailettes 2"],
                "range": ["black", "black", "#a9a9a9", "black", "black", "#878787"]},
      "legend": {
        "orient": "none", "legendX": 1, "legendY": 233, "direction": "horizontal", "columns": 3, "title": null,
        "padding": 13, "columnPadding": 95, "rowPadding": 1,
        "labelFont": "Liberation Sans", "labelFontSize": 19, "labelOffset": 24, "labelLimit": 300,
        "symbolSize": 361, "symbolOffset": 19, "symbolStrokeWidth": 1.3,
        "fillColor": "white", "strokeColor": "black",
        "encode": {
          "legend": {"update": {"strokeWidth": {"value": 2}}},
          "symbols": {"update": {
            "shape": {"signal": "datum.value === 'Evaporateur 1' ? 'M-3,0H3M-0.22,-0.22H0.22V0.22H-0.22Z' : datum.value === 'Evaporateur 3' ? 'M-3,0H-0.22M0.22,0H3M-0.22,-0.22H0.22V0.22H-0.22Z' : (datum.value === 'Air soufflé' || datum.value === 'Evaporateur 2') ? 'M-3,0H3M0,-0.32V0.32' : 'M-3,0H3'"},
            "fill": {"signal": "datum.value === 'Evaporateur 1' ? 'black' : datum.value === 'Evaporateur 3' ? 'white' : 'transparent'"}
          }},
          "labels": {"update": {"fill": {"signal": "datum.value === 'Ailettes 1' ? '#b3b3b3' : datum.value === 'Ailettes 2' ? '#a0a0a0' : 'black'"}}}
        }
      }
    }
  }
},
{
  "data": {"name": "markers"},
  "transform": [{"filter": "datum.s === 'Evaporateur 3'"}],
  "mark": {"type": "point", "shape": "square", "size": 18, "filled": true, "fill": "white", "stroke": "black", "strokeWidth": 1, "opacity": 1},
  "encoding": {
    "x": {"field": "t", "type": "quantitative", "scale": {"domain": [0, 3594], "nice": false, "zero": false},
      "axis": {"orient": "top", "values": [500, 1000, 1500, 2000, 2500, 3000, 3500], "labels": false, "grid": false, "title": null}},
    "y": {"field": "v", "type": "quantitative", "scale": {"domain": [55, 115.25], "nice": false, "zero": false},
      "axis": {"orient": "right", "values": [60, 70, 80, 90, 100, 110], "labels": false, "grid": false, "title": null}}
  }
},
{
  "data": {"name": "markers"},
  "transform": [{"filter": "datum.s === 'Evaporateur 1'"}],
  "mark": {"type": "point", "shape": "square", "size": 14, "filled": true, "fill": "black", "stroke": "black", "strokeWidth": 1, "opacity": 1},
  "encoding": {
    "x": {"field": "t", "type": "quantitative", "scale": {"domain": [0, 3594], "nice": false, "zero": false}, "axis": null},
    "y": {"field": "v", "type": "quantitative", "scale": {"domain": [55, 115.25], "nice": false, "zero": false}, "axis": null}
  }
},
{
  "data": {"name": "markers"},
  "transform": [{"filter": "datum.s === 'Air soufflé' || datum.s === 'Evaporateur 2'"}],
  "mark": {"type": "point", "shape": "M-1,0H1M0,-1V1", "size": 50, "filled": false, "stroke": "black", "strokeWidth": 1.2, "opacity": 1},
  "encoding": {
    "x": {"field": "t", "type": "quantitative", "scale": {"domain": [0, 3594], "nice": false, "zero": false}, "axis": null},
    "y": {"field": "v", "type": "quantitative", "scale": {"domain": [55, 115.25], "nice": false, "zero": false}, "axis": null}
  }
}
],
"resolve": {"axis": {"x": "independent", "y": "independent"}}
}
